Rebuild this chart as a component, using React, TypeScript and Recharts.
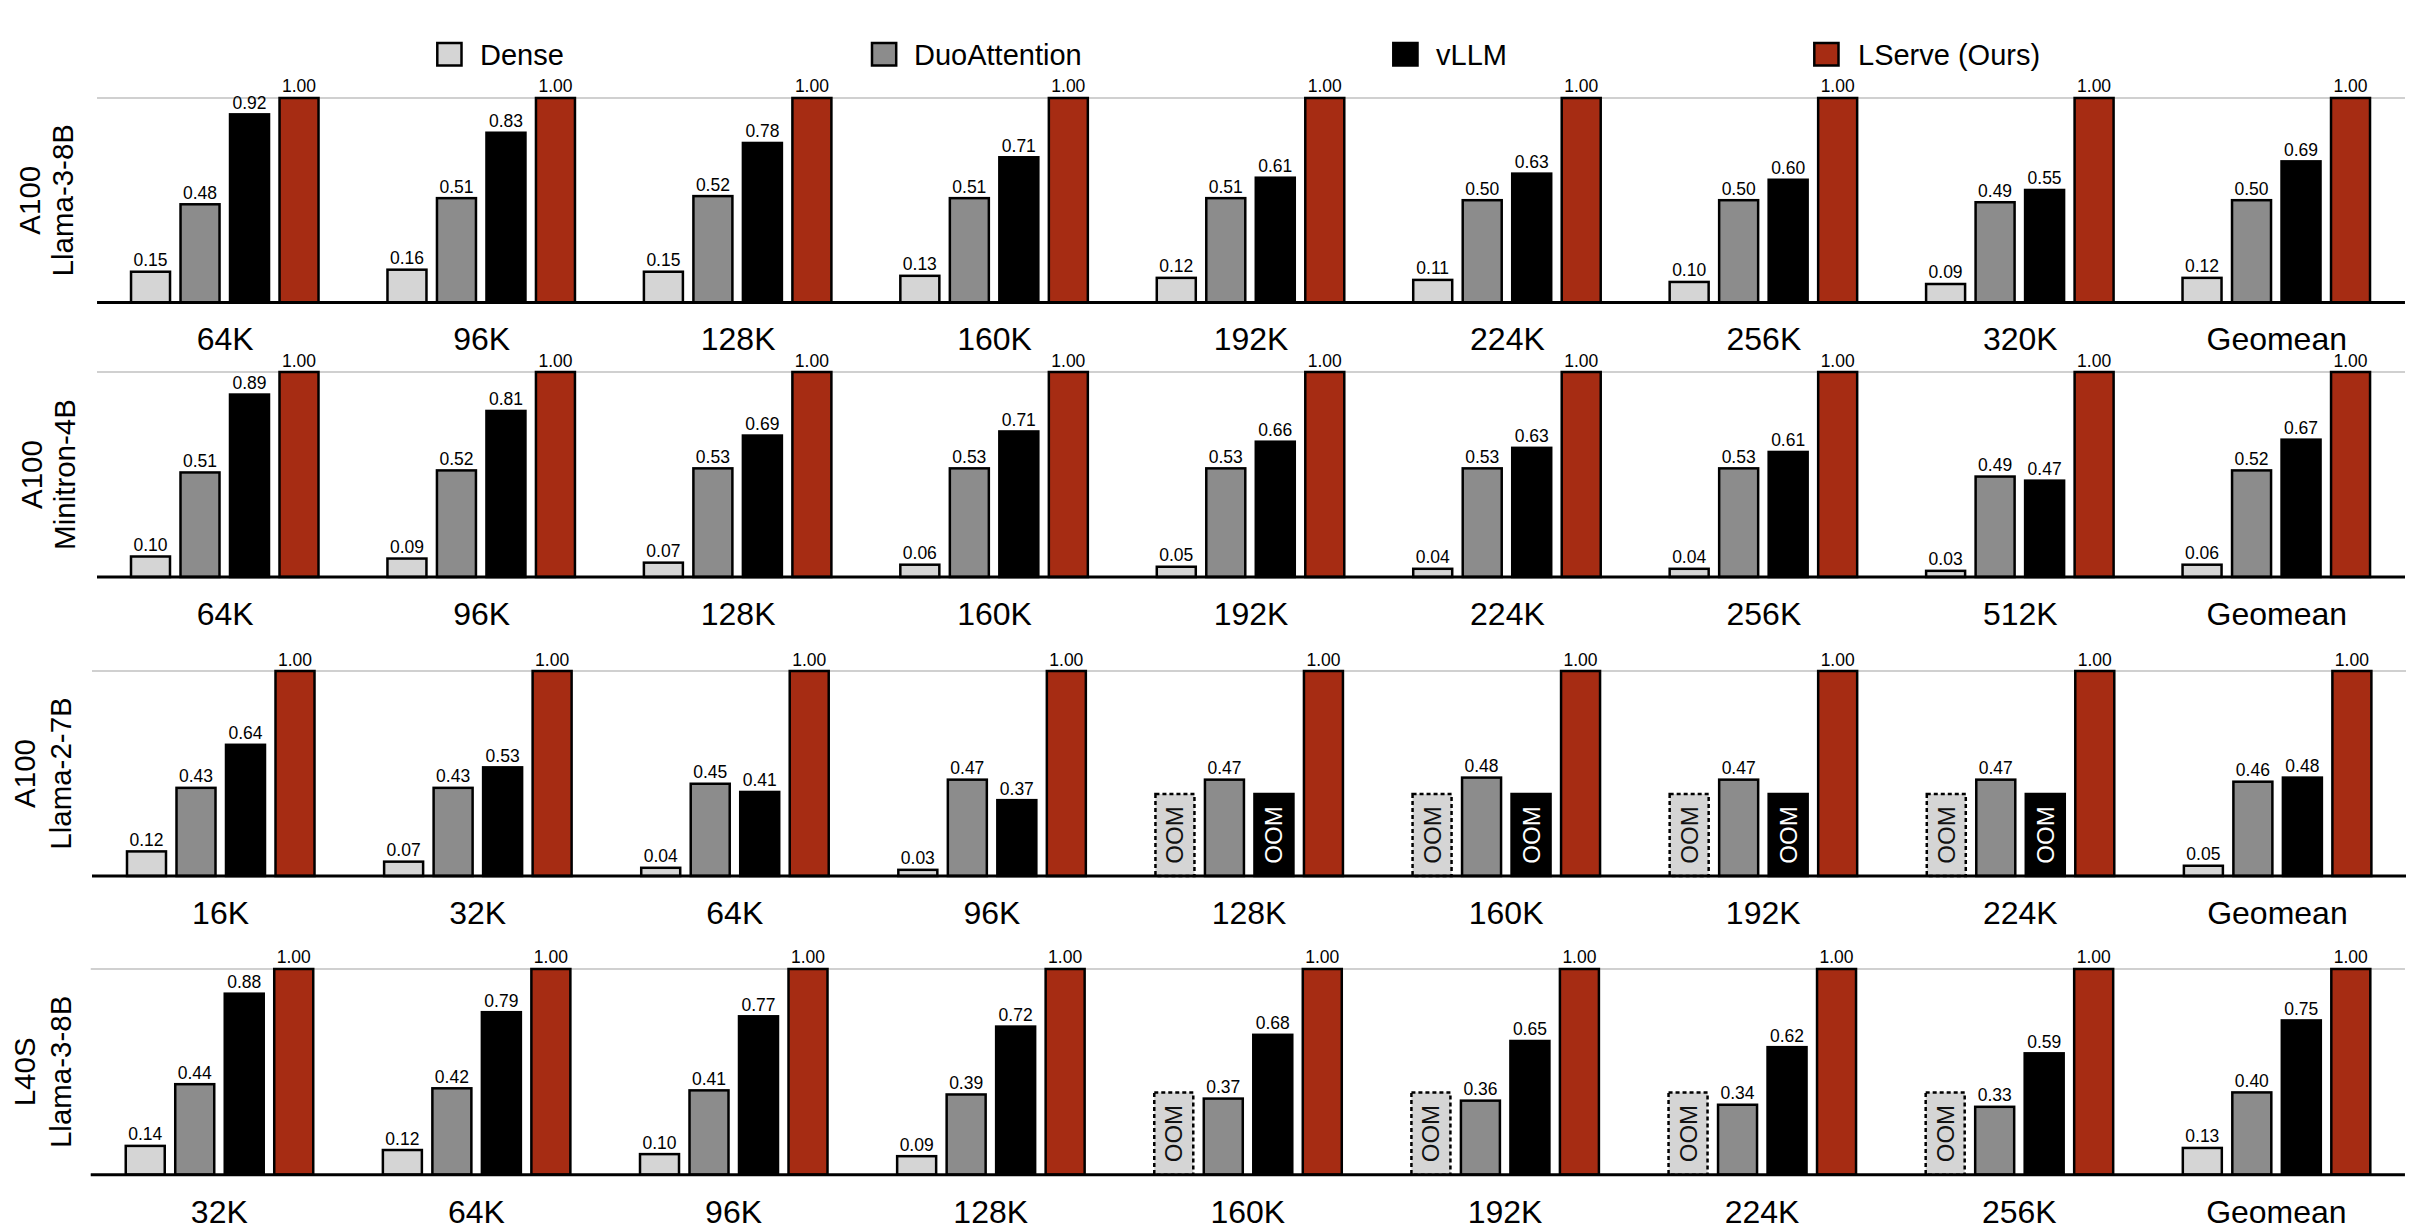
import React from "react"
import { BarChart, Bar, XAxis, YAxis, CartesianGrid, LabelList } from "recharts"

const FONT = '"Liberation Sans", Arial, sans-serif'

const seriesNames = ["Dense", "DuoAttention", "vLLM", "LServe (Ours)"]
const seriesColors = ["#d5d5d5", "#8c8c8c", "#000000", "#a62c13"]

// OOM bars are drawn as placeholders at this height
const OOM_LEVEL = 0.4
const yTicks = [0, 0.2, 0.4, 0.6, 0.8, 1.0]

// A100 / Llama-3-8B
const a100Llama3Contexts = ["64K", "96K", "128K", "160K", "192K", "224K", "256K", "320K", "Geomean"]
const a100Llama3Dense = [0.15, 0.16, 0.15, 0.13, 0.12, 0.11, 0.1, 0.09, 0.12]
const a100Llama3Duo = [0.48, 0.51, 0.52, 0.51, 0.51, 0.5, 0.5, 0.49, 0.5]
const a100Llama3Vllm = [0.92, 0.83, 0.78, 0.71, 0.61, 0.63, 0.6, 0.55, 0.69]
const a100Llama3Lserve = [1, 1, 1, 1, 1, 1, 1, 1, 1]

// A100 / Minitron-4B
const a100MinitronContexts = ["64K", "96K", "128K", "160K", "192K", "224K", "256K", "512K", "Geomean"]
const a100MinitronDense = [0.1, 0.09, 0.07, 0.06, 0.05, 0.04, 0.04, 0.03, 0.06]
const a100MinitronDuo = [0.51, 0.52, 0.53, 0.53, 0.53, 0.53, 0.53, 0.49, 0.52]
const a100MinitronVllm = [0.89, 0.81, 0.69, 0.71, 0.66, 0.63, 0.61, 0.47, 0.67]
const a100MinitronLserve = [1, 1, 1, 1, 1, 1, 1, 1, 1]

// A100 / Llama-2-7B (null = OOM)
const a100Llama2Contexts = ["16K", "32K", "64K", "96K", "128K", "160K", "192K", "224K", "Geomean"]
const a100Llama2Dense = [0.12, 0.07, 0.04, 0.03, null, null, null, null, 0.05]
const a100Llama2Duo = [0.43, 0.43, 0.45, 0.47, 0.47, 0.48, 0.47, 0.47, 0.46]
const a100Llama2Vllm = [0.64, 0.53, 0.41, 0.37, null, null, null, null, 0.48]
const a100Llama2Lserve = [1, 1, 1, 1, 1, 1, 1, 1, 1]

// L40S / Llama-3-8B (null = OOM)
const l40sLlama3Contexts = ["32K", "64K", "96K", "128K", "160K", "192K", "224K", "256K", "Geomean"]
const l40sLlama3Dense = [0.14, 0.12, 0.1, 0.09, null, null, null, null, 0.13]
const l40sLlama3Duo = [0.44, 0.42, 0.41, 0.39, 0.37, 0.36, 0.34, 0.33, 0.4]
const l40sLlama3Vllm = [0.88, 0.79, 0.77, 0.72, 0.68, 0.65, 0.62, 0.59, 0.75]
const l40sLlama3Lserve = [1, 1, 1, 1, 1, 1, 1, 1, 1]

type Row = {
  name: string
  dense: number
  denseOom: boolean
  duo: number
  vllm: number
  vllmOom: boolean
  lserve: number
}

function buildRows(cats: string[], dense: (number | null)[], duo: number[], vllm: (number | null)[], lserve: number[]): Row[] {
  return cats.map((name, i) => ({
    name,
    dense: dense[i] ?? OOM_LEVEL,
    denseOom: dense[i] === null,
    duo: duo[i],
    vllm: vllm[i] ?? OOM_LEVEL,
    vllmOom: vllm[i] === null,
    lserve: lserve[i],
  }))
}

const panels = [
  {
    lines: ["A100", "Llama-3-8B"],
    rows: buildRows(a100Llama3Contexts, a100Llama3Dense, a100Llama3Duo, a100Llama3Vllm, a100Llama3Lserve),
    left: 97, right: 2405, top: 98.3, base: 302.7, labelX: [40, 73],
  },
  {
    lines: ["A100", "Minitron-4B"],
    rows: buildRows(a100MinitronContexts, a100MinitronDense, a100MinitronDuo, a100MinitronVllm, a100MinitronLserve),
    left: 97, right: 2405, top: 371.7, base: 576.7, labelX: [41.7, 75],
  },
  {
    lines: ["A100", "Llama-2-7B"],
    rows: buildRows(a100Llama2Contexts, a100Llama2Dense, a100Llama2Duo, a100Llama2Vllm, a100Llama2Lserve),
    left: 92, right: 2406, top: 670.7, base: 875.7, labelX: [35, 70.7],
  },
  {
    lines: ["L40S", "Llama-3-8B"],
    rows: buildRows(l40sLlama3Contexts, l40sLlama3Dense, l40sLlama3Duo, l40sLlama3Vllm, l40sLlama3Lserve),
    left: 90.7, right: 2405, top: 969.3, base: 1175, labelX: [35, 70.7],
  },
]

const PAD_TOP = 50
const AXIS_H = 60

function makeShape(fill: string, oomKey?: "denseOom" | "vllmOom") {
  return (props: any) => {
    const { x, y, width, height, payload } = props
    const oom = oomKey ? payload?.[oomKey] : false
    const dashed = oom && oomKey === "denseOom"
    const cx = x + width / 2
    const cy = y + height / 2
    return (
      <g>
        <rect
          x={x}
          y={y}
          width={width}
          height={height}
          fill={fill}
          stroke="#000"
          strokeWidth={2.5}
          strokeDasharray={dashed ? "4 3" : undefined}
        />
        {oom && (
          <text
            x={cx}
            y={cy}
            transform={`rotate(-90 ${cx} ${cy})`}
            textAnchor="middle"
            dominantBaseline="central"
            fontSize={24}
            fontFamily={FONT}
            fill={oomKey === "vllmOom" ? "#ffffff" : "#111111"}
          >
            OOM
          </text>
        )}
      </g>
    )
  }
}

function valueLabel(rows: Row[], oomKey?: "denseOom" | "vllmOom") {
  return (props: any) => {
    const { x, y, width, value, index } = props
    if (oomKey && rows[index]?.[oomKey]) return null
    return (
      <text x={Number(x) + Number(width) / 2} y={Number(y) - 5.5} textAnchor="middle" fontSize={17.5} fontFamily={FONT} fill="#000">
        {Number(value).toFixed(2)}
      </text>
    )
  }
}

const CategoryTick = (props: any) => {
  const { x, y, payload } = props
  return (
    <text x={x} y={y + 48} textAnchor="middle" fontSize={32} fontFamily={FONT} fill="#000">
      {payload.value}
    </text>
  )
}

function Panel({ cfg }: { cfg: (typeof panels)[number] }) {
  const plotH = cfg.base - cfg.top
  const chartTop = cfg.top - PAD_TOP
  const cy = PAD_TOP + plotH / 2
  return (
    <div style={{ position: "absolute", left: 0, top: chartTop }}>
      <BarChart
        width={2418}
        height={plotH + PAD_TOP + AXIS_H}
        data={cfg.rows}
        margin={{ top: PAD_TOP, right: 2418 - cfg.right, bottom: 0, left: 0 }}
        barSize={39}
        barGap={10.5}
      >
        <CartesianGrid vertical={false} stroke="#c0c0c0" strokeWidth={1.3} />
        <XAxis
          dataKey="name"
          height={AXIS_H}
          interval={0}
          axisLine={{ stroke: "#000", strokeWidth: 3 }}
          tickLine={false}
          tickSize={0}
          tickMargin={0}
          tick={<CategoryTick />}
        />
        <YAxis
          width={cfg.left}
          domain={[0, 1]}
          ticks={yTicks}
          axisLine={false}
          tickLine={false}
          tick={false}
          label={() => (
            <g>
              {cfg.lines.map((line, i) => (
                <text
                  key={line}
                  x={cfg.labelX[i]}
                  y={cy}
                  transform={`rotate(-90 ${cfg.labelX[i]} ${cy})`}
                  textAnchor="middle"
                  fontSize={29.5}
                  fontFamily={FONT}
                  fill="#000"
                >
                  {line}
                </text>
              ))}
            </g>
          )}
        />
        <Bar dataKey="dense" name={seriesNames[0]} isAnimationActive={false} shape={makeShape(seriesColors[0], "denseOom")}>
          <LabelList dataKey="dense" content={valueLabel(cfg.rows, "denseOom")} />
        </Bar>
        <Bar dataKey="duo" name={seriesNames[1]} isAnimationActive={false} shape={makeShape(seriesColors[1])}>
          <LabelList dataKey="duo" content={valueLabel(cfg.rows)} />
        </Bar>
        <Bar dataKey="vllm" name={seriesNames[2]} isAnimationActive={false} shape={makeShape(seriesColors[2], "vllmOom")}>
          <LabelList dataKey="vllm" content={valueLabel(cfg.rows, "vllmOom")} />
        </Bar>
        <Bar dataKey="lserve" name={seriesNames[3]} isAnimationActive={false} shape={makeShape(seriesColors[3])}>
          <LabelList dataKey="lserve" content={valueLabel(cfg.rows)} />
        </Bar>
      </BarChart>
    </div>
  )
}

const legendBoxX = [437.3, 872, 1393.3, 1814.3]
const legendTextX = [480, 914, 1436, 1858]

function TopLegend() {
  return (
    <svg width={2418} height={90} style={{ position: "absolute", left: 0, top: 0 }}>
      {seriesNames.map((name, i) => (
        <g key={name}>
          <rect x={legendBoxX[i]} y={43} width={24.2} height={22.5} fill={seriesColors[i]} stroke="#000" strokeWidth={2.5} />
          <text x={legendTextX[i]} y={65} fontSize={29} fontFamily={FONT} fill="#000">
            {name}
          </text>
        </g>
      ))}
    </svg>
  )
}

export default function App() {
  return (
    <div style={{ position: "absolute", left: 0, top: 0, width: 2418, height: 1232, background: "#fff", fontFamily: FONT }}>
      <TopLegend />
      {panels.map((cfg) => (
        <Panel key={cfg.lines.join("-") + cfg.top} cfg={cfg} />
      ))}
    </div>
  )
}
